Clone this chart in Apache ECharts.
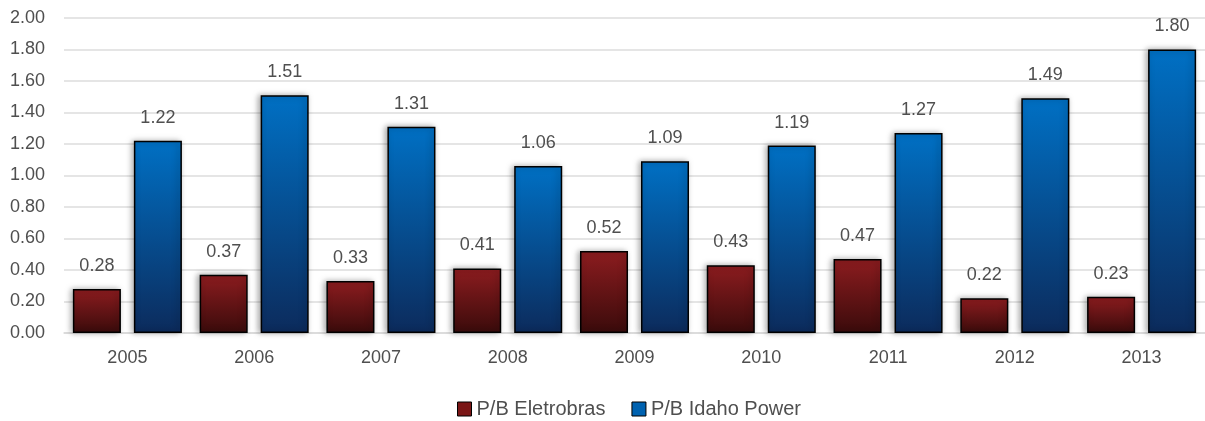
<!DOCTYPE html>
<html><head><meta charset="utf-8">
<script src="https://cdn.jsdelivr.net/npm/echarts@6/dist/echarts.min.js"></script>
<style>html,body{margin:0;padding:0;background:#fff}#c{width:1205px;height:421px}</style>
</head><body><div id="c"></div>
<script>
const categories = ['2005','2006','2007','2008','2009','2010','2011','2012','2013'];
const eletrobras = [0.28,0.37,0.33,0.41,0.52,0.43,0.47,0.22,0.23];
const idaho = [1.22,1.51,1.31,1.06,1.09,1.19,1.27,1.49,1.80];
const seriesNames = ['P/B Eletrobras','P/B Idaho Power'];

const chart = echarts.init(document.getElementById('c'));
const font = '"Liberation Sans", Arial, sans-serif';
const txt = '#4f4f4f';
const redGrad = new echarts.graphic.LinearGradient(0,0,0,1,[{offset:0,color:'#8c1c1f'},{offset:1,color:'#3a0b0b'}]);
const blueGrad = new echarts.graphic.LinearGradient(0,0,0,1,[{offset:0,color:'#0070c4'},{offset:1,color:'#0c2b5c'}]);
const lbl = {show:true,position:'top',distance:14,color:txt,fontSize:18,fontFamily:font,formatter:p=>p.value.toFixed(2)};
chart.setOption({
  animation:false,
  grid:{left:64,right:-5,top:18,bottom:88,containLabel:false},
  legend:{bottom:-3,left:452,icon:'rect',itemWidth:14,itemHeight:14,itemGap:26,textStyle:{fontSize:20,color:txt,fontFamily:font,padding:[0,0,0,0]},
    data:[{name:seriesNames[0],itemStyle:{color:'#7a1616',borderColor:'#000',borderWidth:1}},{name:seriesNames[1],itemStyle:{color:'#0062b0',borderColor:'#000',borderWidth:1}}]},
  xAxis:{type:'category',data:categories,axisTick:{show:false},axisLine:{lineStyle:{color:'#d9d9d9',width:1.5}},
    axisLabel:{color:txt,fontSize:18,fontFamily:font,margin:16}},
  yAxis:{type:'value',min:0,max:2,interval:0.2,axisLabel:{color:txt,fontSize:18,fontFamily:font,margin:19,formatter:v=>v.toFixed(2)},
    splitLine:{lineStyle:{color:'#dcdcdc',width:1.5}},axisLine:{show:false},axisTick:{show:false}},
  series:[
    {name:seriesNames[0],type:'bar',data:eletrobras,barGap:'27%',barCategoryGap:'14%',
      itemStyle:{color:redGrad,borderColor:'#000',borderWidth:1.5,shadowColor:'rgba(0,0,0,0.35)',shadowBlur:6,shadowOffsetX:-2},label:lbl},
    {name:seriesNames[1],type:'bar',data:idaho,
      itemStyle:{color:blueGrad,borderColor:'#000',borderWidth:1.5,shadowColor:'rgba(0,0,0,0.35)',shadowBlur:6,shadowOffsetX:-2},label:lbl}
  ]
});
</script></body></html>
